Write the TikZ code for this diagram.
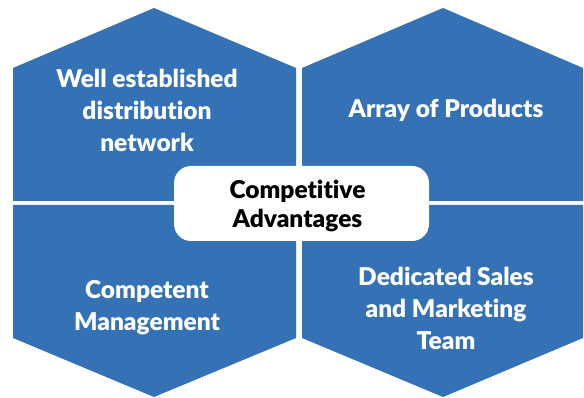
\documentclass[tikz,border=0pt]{standalone}
\usepackage{fontspec}
\setmainfont{Lato}[Ligatures=NoCommon,BoldFont={Lato Black}]
\definecolor{hexblue}{RGB}{52,113,181}
\begin{document}
\begin{tikzpicture}[x=1pt,y=-1pt,
  quad/.style={fill=hexblue,draw=none},
  qtext/.style={text=white,font=\fontsize{24.5}{32}\selectfont\bfseries,align=center},
  ctext/.style={text=black,font=\fontsize{24.5}{29}\selectfont\bfseries,align=center}]
\useasboundingbox (0,0) rectangle (584,398);
% top-left
\path[quad] (13,201) -- (13,68) -- (154,8) -- (296,68) -- (296,201) -- cycle;
% top-right
\path[quad] (302,201) -- (302,68) -- (443,8) -- (583,68) -- (583,201) -- cycle;
% bottom-left
\path[quad] (13,205) -- (296,205) -- (296,338) -- (154,397) -- (13,338) -- cycle;
% bottom-right
\path[quad] (302,205) -- (583,205) -- (583,338) -- (443,397) -- (302,338) -- cycle;
% center box
\node[fill=white,rounded corners=17pt,minimum width=255pt,minimum height=75pt,inner sep=0pt] (c) at (301.5,203.5) {};
\node[ctext] (ct) at (297.5,206) {Competitive\\Advantages};
\node[qtext] (a) at (147,110) {Well established\\distribution\\network};
\node[qtext] (b) at (446,110) {Array of Products};
\node[qtext] (d) at (147,308) {Competent\\Management};
\node[qtext] (e) at (446,308) {Dedicated Sales\\and Marketing\\Team};
\end{tikzpicture}
\end{document}
